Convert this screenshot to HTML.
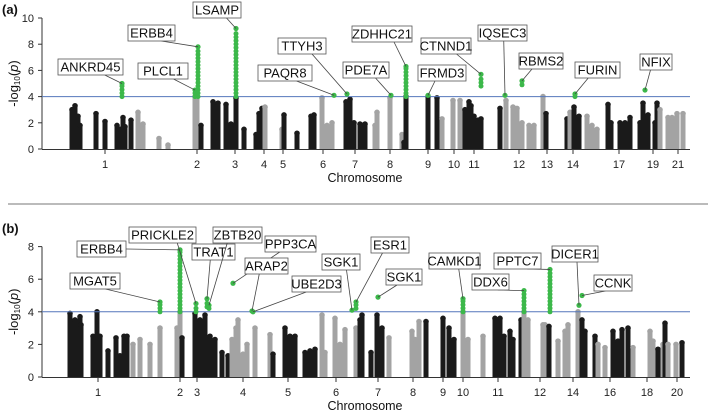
<!DOCTYPE html>
<html><head><meta charset="utf-8"><style>
body{margin:0;background:#fff;}
svg{display:block;font-family:"Liberation Sans",sans-serif;}
</style></head><body>
<svg id="chart" width="709" height="415" xmlns="http://www.w3.org/2000/svg"></svg>
<script>
// ===== Panel (a) data =====
const aPos=[32,35,38,40,56,65,77,80,83,85,91,98,103,119,128,155,157,161,173,178,186,191,196,204,216,219,222,225,242,244,257,271,274,282,287,292,306,310,314,320,325,335,337,350,362,364,366,388,397,402,413,420,425,429,431,434,438,441,460,466,473,477,482,489,494,503,506,527,530,534,539,547,552,557,568,571,580,585,590,600,603,608,615,617,620,628,632,637,643];
const aVal=[3.0,3.3,2.5,1.8,2.7,2.1,1.8,1.5,2.4,1.7,2.2,2.8,1.9,0.8,0.3,4.0,4.0,1.8,3.6,3.5,3.4,1.9,3.9,1.5,1.1,2.7,3.1,3.2,1.5,2.6,1.2,2.5,2.6,3.9,1.8,2.0,3.6,3.8,2.0,1.9,1.9,1.8,2.8,3.9,1.1,0.5,4.0,4.0,3.9,2.3,3.7,3.7,3.0,3.6,3.3,2.5,2.2,2.3,3.1,3.7,3.2,3.1,2.0,1.8,1.8,4.0,2.7,2.3,2.8,3.2,2.5,2.5,1.8,1.5,3.4,2.0,2.0,2.0,2.4,2.0,3.5,2.6,2.0,3.5,3.0,2.4,2.4,2.7,2.7];
const aCol=[0,0,0,0,0,0,0,0,0,0,0,1,1,1,1,1,1,0,0,0,0,0,0,0,0,0,0,1,1,0,0,0,0,1,1,1,0,0,0,0,0,1,1,1,1,0,0,0,0,1,1,1,0,0,0,0,0,0,0,1,1,1,1,1,1,1,0,0,1,0,0,1,1,1,0,0,0,0,0,0,0,0,0,0,1,1,1,1,1];
const aGenes=["ANKRD45","PLCL1","ERBB4","LSAMP","PAQR8","TTYH3","PDE7A","ZDHHC21","FRMD3","CTNND1","IQSEC3","RBMS2","FURIN","NFIX"];
const aGPos=[82,155,158,196,294,307,351,366,388,441,465,482,535,605];
const aGVal=[5.0,4.5,7.8,9.2,4.1,4.2,4.1,6.3,4.1,5.7,4.1,5.2,4.2,4.5];
const aGFrom=[4,4,4,4,4.1,4.2,4.1,4,4,4.8,4,4.9,4,4.5];
const aChrLab=["1","2","3","4","5","6","7","8","9","10","11","12","13","14","17","19","21"];
const aChrPos=[65,157,195,224,243,283,315,350,388,414,434,479,507,533,579,613,638];
const aYTicks=[0,2,4,6,8,10];
// ===== Panel (b) data =====
const bPos=[30,35,40,41,53,57,60,68,76,80,84,87,93,100,110,120,137,140,142,155,160,165,170,175,182,188,192,196,198,203,207,215,230,233,245,250,255,265,270,275,282,285,295,300,305,316,320,322,331,337,342,349,372,375,379,386,403,409,414,423,428,443,455,460,464,470,473,481,484,488,503,505,509,518,525,528,538,542,545,555,558,565,573,578,582,588,593,610,613,618,623,625,628,636,642];
const bVal=[3.9,3.5,3.7,3.2,2.5,4.0,2.5,1.6,2.4,1.3,2.5,2.5,2.0,2.3,2.0,3.0,3.0,4.0,2.4,3.9,3.5,3.8,2.5,2.3,1.5,1.3,2.3,3.0,3.5,1.4,2.0,3.0,2.6,1.4,3.0,2.5,2.5,1.5,1.6,1.7,3.8,1.5,3.6,2.0,2.9,3.0,3.5,3.8,1.5,3.8,3.0,2.4,2.8,2.3,3.4,3.4,3.6,3.0,2.3,4.0,2.3,2.5,3.6,3.6,2.5,2.8,2.3,3.5,4.0,3.5,3.2,3.2,3.1,2.2,2.8,3.2,4.0,3.5,2.8,2.5,2.0,1.8,2.8,2.2,2.9,3.0,1.8,2.8,2.2,1.7,2.0,3.3,2.0,2.0,2.1];
const bCol=[0,0,0,0,0,0,0,0,0,0,0,0,1,1,1,1,1,1,0,0,0,0,0,0,0,0,1,1,1,1,1,1,1,0,0,0,0,0,0,0,1,1,1,1,1,1,0,0,0,0,0,1,1,1,1,0,0,0,0,1,1,1,0,0,0,0,0,0,1,1,1,1,0,1,1,1,1,0,0,0,1,1,0,0,0,0,1,1,1,0,1,0,1,1,0];
const bGenes=["MGAT5","ERBB4","PRICKLE2","TRAT1","ZBTB20","PPP3CA","ARAP2","UBE2D3","SGK1","ESR1","SGK1","CAMKD1","DDX6","PPTC7","DICER1","CCNK"];
const bGPos=[120,140,156,167,169,193,212,213,312,316,338,423,484,510,539,542];
const bGVal=[4.6,7.8,4.5,4.8,4.4,5.75,4.05,4.0,4.1,4.6,4.9,4.8,5.3,6.6,4.4,5.0];
const bGFrom=[4,4,4,4.3,4.2,5.75,4.05,4.0,4.1,4.2,4.9,4,4,4,4.4,5.0];
const bChrLab=["1","2","3","4","5","6","7","8","9","10","11","12","14","16","18","20"];
const bChrPos=[58,140,157,203,248,296,338,373,403,423,458,500,533,570,607,637];
const bYTicks=[0,2,4,6,8];

const NS="http://www.w3.org/2000/svg";
const svg=document.getElementById('chart');
function mk(tag,attrs,parent){const e=document.createElementNS(NS,tag);for(const k in attrs)e.setAttribute(k,attrs[k]);(parent||svg).appendChild(e);return e;}
function xs(v){return 40+v;}
const COLS=["#1a1a1a","#a3a3a3"];
const GREEN="#3cb84a";

function panel(cfg){
  const g=mk('g',{});
  
  
  const y=v=>cfg.y0-v*cfg.k;
  const ax=mk('line',{x1:42,x2:42,y1:y(0),y2:y(cfg.yt[cfg.yt.length-1]),stroke:'#333','stroke-width':1},g);
  
  cfg.yt.forEach(t=>{
    mk('line',{x1:38,x2:42,y1:y(t),y2:y(t),stroke:'#333'},g);
    const tl=mk('text',{x:34,y:y(t)+4,'text-anchor':'end','font-size':11,fill:'#222'},g);
    tl.textContent=t;
  });
  const xa=mk('line',{x1:42,x2:690,y1:y(0)+0.5,y2:y(0)+0.5,stroke:'#333'},g);
  
  cfg.chrPos.forEach((p,i)=>{
    mk('line',{x1:xs(p),x2:xs(p),y1:y(0),y2:y(0)+5,stroke:'#333'},g);
    const tl=mk('text',{x:xs(p),y:y(0)+19,'text-anchor':'middle','font-size':11,fill:'#222'},g);
    tl.textContent=cfg.chrLab[i];
  });
  cfg.pos.forEach((p,i)=>{
    const c=COLS[cfg.col[i]];
    const top=y(cfg.val[i]);
    const r=mk('rect',{x:xs(p)-2.5,y:top,width:5,height:y(0)-top,fill:c},g);
    
    mk('circle',{cx:xs(p),cy:top,r:2.8,fill:c},g);
  });
  const th=mk('line',{x1:42,x2:690,y1:y(4),y2:y(4),stroke:'#5577bb','stroke-width':1},g);
  
  cfg.gPos.forEach((p,i)=>{
    const t=y(cfg.gVal[i]),f=y(cfg.gFrom[i]);
    for(let yy=f;yy>t+2;yy-=3.5){mk('circle',{cx:xs(p),cy:yy,r:2.5,fill:GREEN},g);}
    const d=mk('circle',{cx:xs(p),cy:t,r:2.6,fill:GREEN},g);
    
  });
  cfg.boxes.forEach((b,i)=>{
    const gi=b[3];
    const px=xs(cfg.gPos[gi]),py=y(cfg.gVal[gi]);
    const cx=b[0]+b[2]/2,cy=b[1]+8;
    let sx,sy;
    if(py>b[1]+16){sx=Math.min(Math.max(px,b[0]+4),b[0]+b[2]-4);sx=(sx+cx)/2;sy=b[1]+16;}
    else{sx=px>cx?b[0]+b[2]:b[0];sy=cy;}
    mk('line',{x1:sx,y1:sy,x2:px,y2:py,stroke:'#444','stroke-width':0.8},g);
    const rb=mk('rect',{x:b[0],y:b[1],width:b[2],height:16,fill:'#fff',stroke:'#555','stroke-width':0.8},g);
    
    const tx=mk('text',{x:cx,y:b[1]+12.5,'text-anchor':'middle','font-size':13,fill:'#111'},g);
    tx.textContent=cfg.genes[gi];
  });
  const yl=mk('text',{x:0,y:0,transform:`translate(18,${cfg.y0-cfg.yt[cfg.yt.length-1]*cfg.k/2}) rotate(-90)`,'text-anchor':'middle','font-size':13,fill:'#111'},g);
  yl.innerHTML='-log<tspan font-size="8" dy="2">10</tspan><tspan dy="-2">(</tspan><tspan font-style="italic">p</tspan>)';
  
  const xl=mk('text',{x:365,y:cfg.y0+33,'text-anchor':'middle','font-size':12.5,fill:'#111'},g);
  xl.textContent='Chromosome';
  const pt=mk('text',{x:2,y:cfg.titleY,'font-size':13,'font-weight':'bold',fill:'#111'},g);
  pt.textContent=cfg.title;
}

panel({name:'panel-a',title:'(a)',titleY:14,y0:149,k:13.1,yt:aYTicks,pos:aPos,val:aVal,col:aCol,gPos:aGPos,gVal:aGVal,gFrom:aGFrom,genes:aGenes,chrPos:aChrPos,chrLab:aChrLab,
 boxes:[[58,59,65,0],[138,63,50,1],[128,25,47,2],[193,2,48,3],[258,65,54,4],[278,38,48,5],[343,62,46,6],[352,26,60,7],[418,65,48,8],[421,38,50,9],[478,25,49,10],[519,53,44,11],[575,62,45,12],[640,54,32,13]]});
panel({name:'panel-b',title:'(b)',titleY:233,y0:377,k:16.3,yt:bYTicks,pos:bPos,val:bVal,col:bCol,gPos:bGPos,gVal:bGVal,gFrom:bGFrom,genes:bGenes,chrPos:bChrPos,chrLab:bChrLab,
 boxes:[[70,273,50,0],[77,241,49,1],[129,227,67,2],[192,244,43,3],[213,227,49,4],[265,236,51,5],[245,258,43,6],[292,276,49,7],[322,254,38,8],[371,237,38,9],[386,269,36,10],[429,253,51,11],[472,274,37,12],[494,253,47,13],[552,246,46,14],[594,275,38,15]]});
const sep=mk('line',{x1:8,x2:708,y1:204,y2:204,stroke:'#777','stroke-width':1});

</script>
</body></html>
